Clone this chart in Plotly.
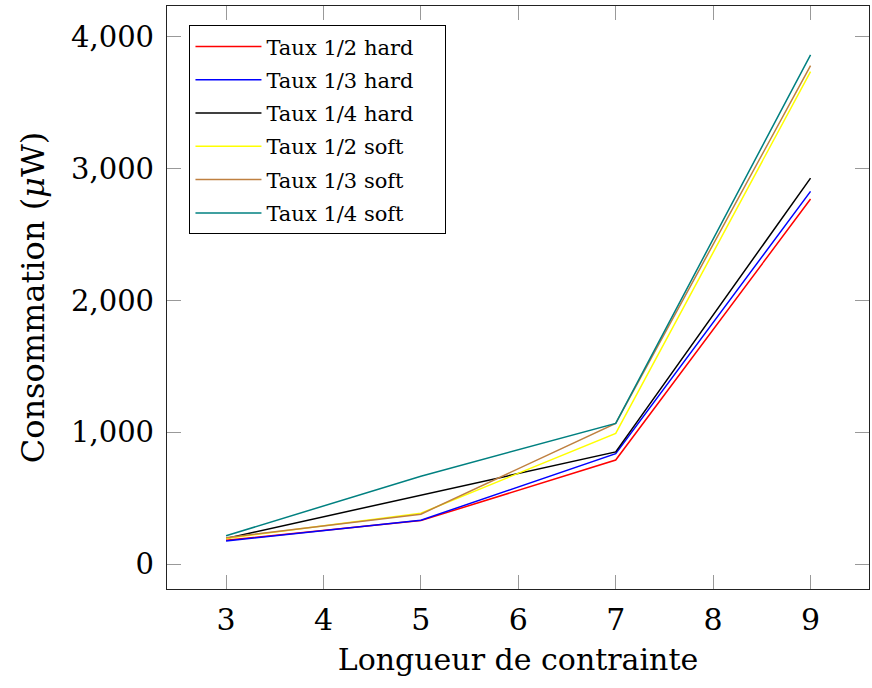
import plotly.graph_objects as go

x_vals = [3, 5, 7, 9]
names = ["Taux 1/2 hard", "Taux 1/3 hard", "Taux 1/4 hard",
         "Taux 1/2 soft", "Taux 1/3 soft", "Taux 1/4 soft"]
red_h = [180, 330, 790, 2770]
blue_h = [175, 333, 838, 2828]
black_h = [195, 525, 851, 2929]
yellow_s = [195, 386, 992, 3737]
brown_s = [200, 379, 1068, 3783]
teal_s = [215, 667, 1068, 3864]
series = [red_h, blue_h, black_h, yellow_s, brown_s, teal_s]
colors = ["#ff0000", "#0000ff", "#000000", "#ffff00", "#bf8040", "#008080"]

font_family = "DejaVu Serif"
pad = "\u00a0\u00a0\u00a0\u00a0"

fig = go.Figure()
for i, (n, s, c) in enumerate(zip(names, series, colors)):
    fig.add_trace(go.Scatter(x=x_vals, y=s, mode="lines", name=n + pad, legendgroup=f"g{i}",
                             line=dict(color=c, width=1.5)))

fig.update_layout(
    width=872, height=688,
    paper_bgcolor="white", plot_bgcolor="white",
    margin=dict(l=167, r=3, t=6, b=99),
    font=dict(family=font_family, color="black"),
    showlegend=True,
    legend=dict(x=0.032, y=0.967, xanchor="left", yanchor="top",
                bordercolor="black", borderwidth=1, bgcolor="white",
                font=dict(size=21, family=font_family), itemwidth=66,
                tracegroupgap=3),
    xaxis=dict(range=[2.394, 9.6], tickvals=[3, 4, 5, 6, 7, 8, 9],
               ticks="inside", ticklen=14, tickcolor="#999", tickwidth=1, mirror="allticks",
               showline=True, linecolor="#222", linewidth=1.3,
               showgrid=False, zeroline=False,
               tickfont=dict(size=30, family=font_family), ticklabelstandoff=4,
               title=dict(text="Longueur de contrainte", font=dict(size=30, family=font_family),
                          standoff=12)),
    yaxis=dict(range=[-189, 4235], tickvals=[0, 1000, 2000, 3000, 4000], tickformat=",d",
               ticks="inside", ticklen=14, tickcolor="#999", tickwidth=1, mirror="allticks",
               showline=True, linecolor="#222", linewidth=1.3,
               showgrid=False, zeroline=False,
               tickfont=dict(size=29, family=font_family), ticklabelstandoff=6,
               title=dict(text="Consommation (<i>μ</i>W)", font=dict(size=32, family=font_family),
                          standoff=16)),
)

fig.write_html("out.html", config={"displayModeBar": False},
               post_script="document.body.style.margin='0';document.body.style.overflow='hidden';")
